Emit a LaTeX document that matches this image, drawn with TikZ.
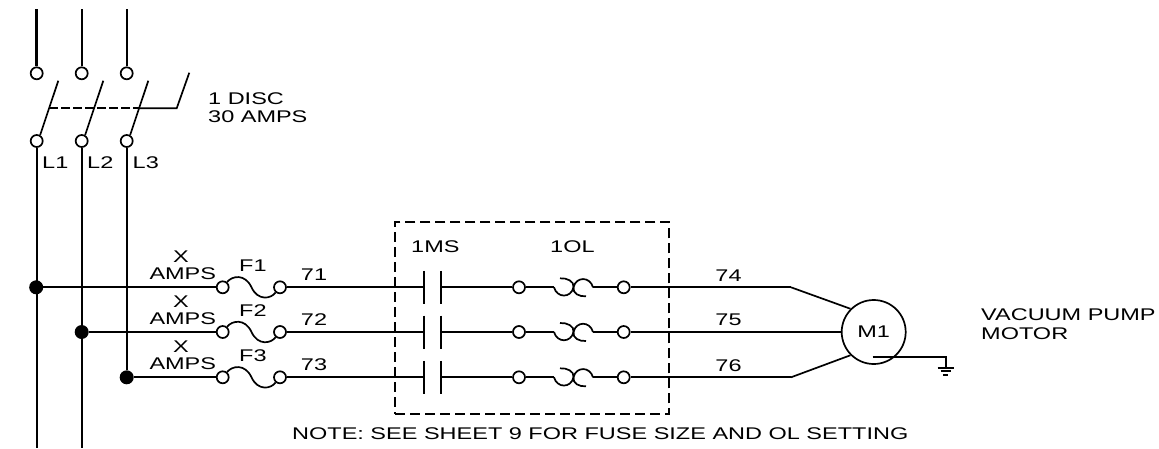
\documentclass[tikz,border=0pt]{standalone}
\usepackage{fontspec}
\setmainfont[FakeStretch=1.39]{Liberation Sans}
\tikzset{
  wire/.style={draw=black,line width=1.7pt,line cap=butt},
  term/.style={circle,draw=black,fill=white,line width=1.7pt,minimum size=12pt,inner sep=0pt},
  jdot/.style={circle,fill=black,minimum size=14pt,inner sep=0pt},
  lbl/.style={anchor=base west,inner sep=0pt,font=\fontsize{16.9}{18}\selectfont,text=black},
  clbl/.style={anchor=base,inner sep=0pt,font=\fontsize{16.9}{18}\selectfont,text=black},
  dash box/.style={draw=black,line width=1.7pt,dash pattern=on 10pt off 5pt},
}
\begin{document}
\begin{tikzpicture}[x=1pt,y=-1pt]
\useasboundingbox (0,0) rectangle (1159,448);
% disconnect: top ends, terminals, bottom ends
\foreach \n/\x/\w in {1/36.7/2.8pt,2/81.7/1.7pt,3/126.7/1.7pt}{
  \coordinate (top\n) at (\x,9.3);
  \node[term] (u\n) at (\x,73.3) {};
  \node[term] (d\n) at (\x,141) {};
  \draw[wire,line width=\w] (top\n) -- (u\n);
  \coordinate (bl\n) at (\x+21.6,80.7);
  \draw[wire] (d\n.60) -- (bl\n);
}
\coordinate (bot1) at (36.7,448);
\coordinate (bot2) at (81.7,448);
\node[jdot] (j1) at (36.2,287.3) {};
\node[jdot] (j2) at (81.7,332) {};
\node[jdot] (j3) at (126.7,377.3) {};
\draw[wire] (d1) -- (bot1);
\draw[wire] (d2) -- (bot2);
\draw[wire] (d3) -- (j3);
% operating handle
\coordinate (h1) at (49.3,108.3);
\coordinate (h2) at (138.5,108.3);
\coordinate (h3) at (176.7,108.3);
\coordinate (h4) at (189.3,72.7);
\draw[wire,dash pattern=on 8.5pt off 3.5pt] (h1) -- (h2);
\draw[wire] (h2) -- (h3) -- (h4);
% three phase rows
\foreach \i/\y/\a/\b in {1/287.3/71/74,2/332/72/75,3/377.3/73/76}{
  \node[term] (fl\i) at (222.7,\y) {};
  \node[term] (fr\i) at (280,\y) {};
  \draw[wire] (j\i) -- (fl\i);
  \draw[wire] (fl\i.50) .. controls (232,\y-11.5) and (245,\y-14) .. (251.5,\y)
     .. controls (258,\y+14) and (271,\y+11.5) .. (fr\i.230);
  \coordinate (pa\i) at (424.3,\y);
  \coordinate (pb\i) at (441,\y);
  \draw[wire] (fr\i) -- (pa\i);
  \draw[wire] (424.3,\y-16.5) -- (424.3,\y+16.5);
  \draw[wire] (441,\y-16.5) -- (441,\y+16.5);
  \node[term] (ol\i) at (519,\y) {};
  \node[term] (or\i) at (623.7,\y) {};
  \draw[wire] (pb\i) -- (ol\i);
  \coordinate (oa\i) at (554,\y);
  \coordinate (ob\i) at (593,\y);
  \draw[wire] (ol\i) -- (oa\i);
  \draw[wire] (oa\i) .. controls (557,\y+11) and (571,\y+11) .. (573.5,\y)
     .. controls (574.5,\y-6) and (567,\y-9.5) .. (560,\y-9);
  \draw[wire] (ob\i) .. controls (590,\y-11) and (576,\y-11) .. (573.5,\y)
     .. controls (572.5,\y+6) and (579,\y+9.5) .. (586,\y+9);
  \draw[wire] (ob\i) -- (or\i);
  \coordinate (k\i) at (791,\y);
  \draw[wire] (or\i) -- (k\i);
  \node[clbl] (wa\i) at (314,\y-6.6) {\a};
  \node[clbl] (wb\i) at (728.5,\y-6.3) {\b};
}
% motor
\node[circle,draw=black,line width=1.7pt,minimum size=64pt,inner sep=0pt,
  font=\fontsize{16.9}{18}\selectfont] (m) at (873.7,332) {M1};
\draw[wire] (k1) -- (m.135);
\draw[wire] (k2) -- (m.west);
\draw[wire] (k3) -- (m.225);
% ground
\coordinate (g0) at (872.7,357);
\coordinate (g1) at (945.7,357);
\coordinate (g2) at (945.7,367.7);
\draw[wire] (g0) -- (g1) -- (g2);
\draw[wire] (937.7,367.7) -- (953.7,367.7);
\draw[wire] (940.7,371.2) -- (950.7,371.2);
\draw[wire] (943.2,374.7) -- (948.2,374.7);
% dashed enclosure
\node[dash box,minimum width=274pt,minimum height=192pt,inner sep=0pt] (encl) at (532.3,318.3) {};
% labels
\node[lbl] (tl1) at (42,168.3) {L1};
\node[lbl] (tl2) at (87,168.3) {L2};
\node[lbl] (tl3) at (132.5,168.3) {L3};
\node[lbl] (td1) at (208,104) {1 DISC};
\node[lbl] (td2) at (208,122.7) {30 AMPS};
\foreach \i/\y in {1/0,2/45,3/90}{
  \node[clbl] (tx\i) at (181,262.7+\y) {X};
  \node[lbl] (ta\i) at (149.3,279+\y) {AMPS};
  \node[lbl] (tf\i) at (239,271+\y) {F\i};
}
\node[lbl] (tms) at (411,252.7) {1MS};
\node[lbl] (tol) at (550,252.7) {1OL};
\node[lbl] (tv1) at (981,320) {VACUUM PUMP};
\node[lbl] (tv2) at (981,339) {MOTOR};
\node[lbl] (tn) at (292,439) {NOTE: SEE SHEET 9 FOR FUSE SIZE AND OL SETTING};
\end{tikzpicture}
\end{document}
